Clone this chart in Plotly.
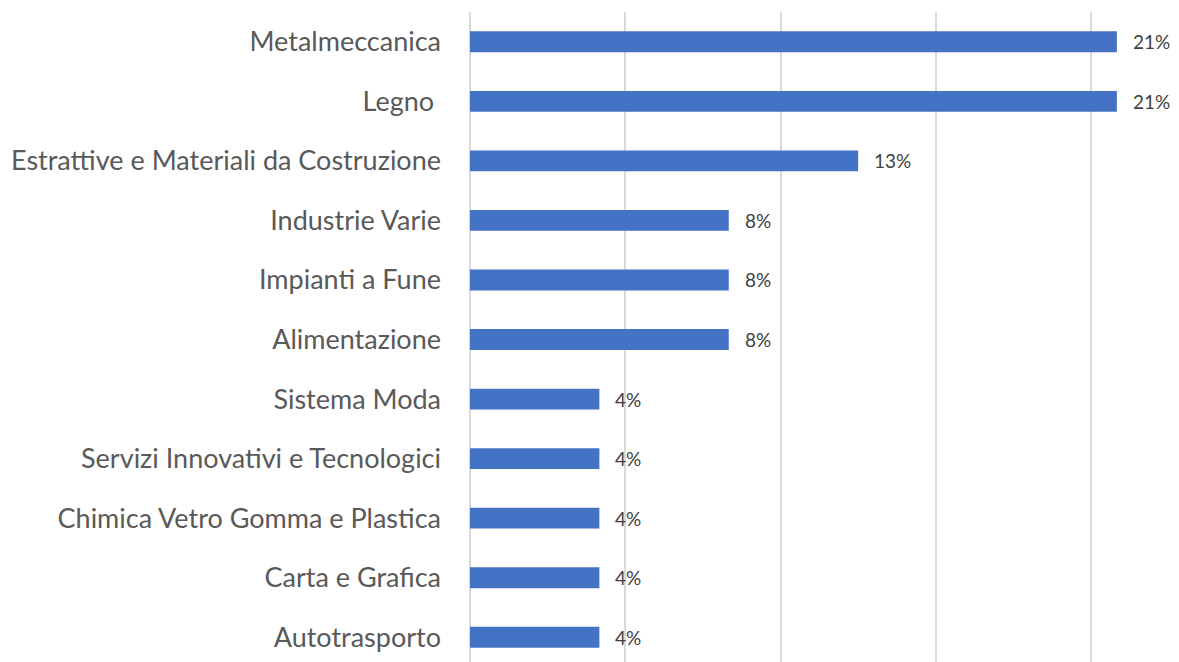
import plotly.graph_objects as go

categories = ["Metalmeccanica", "Legno ", "Estrattive e Materiali da Costruzione",
              "Industrie Varie", "Impianti a Fune", "Alimentazione", "Sistema Moda",
              "Servizi Innovativi e Tecnologici", "Chimica Vetro Gomma e Plastica",
              "Carta e Grafica", "Autotrasporto"]
counts = [5, 5, 3, 2, 2, 2, 1, 1, 1, 1, 1]
total = 24
shares = [c / total for c in counts]
labels = [f"{int(s * 100 + 0.5)}%" for s in shares]

FONT = "Lato"
fig = go.Figure()
fig.add_trace(go.Bar(
    x=shares, y=categories, orientation="h",
    marker=dict(color="#4472C4", line=dict(width=0)),
    width=0.35,
    hoverinfo="skip",
))
for s, c, t in zip(shares, categories, labels):
    fig.add_annotation(x=s, y=c, text=t, showarrow=False, xanchor="left",
                       xshift=14, font=dict(family=FONT, size=19, color="#404040"))

fig.update_layout(
    width=1171, height=654,
    margin=dict(l=462, r=0, t=4, b=0),
    paper_bgcolor="white", plot_bgcolor="white",
    showlegend=False,
    xaxis=dict(range=[0, 709 / 3105], dtick=0.05, showgrid=True, gridcolor="#D9D9D9",
               gridwidth=1.5, zeroline=True, zerolinecolor="#D9D9D9", zerolinewidth=1.5,
               showticklabels=False, showline=False, fixedrange=True),
    yaxis=dict(type="category", categoryorder="array", categoryarray=categories,
               range=[10.415, -0.5], showgrid=False, zeroline=False, showline=False,
               ticks="", ticklabelstandoff=28,
               tickfont=dict(family=FONT, size=27, color="#595959"), fixedrange=True),
)
fig.write_html("out.html")
